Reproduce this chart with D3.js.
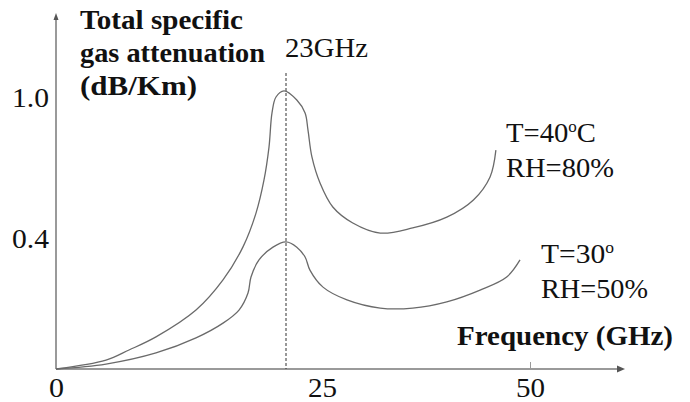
<!DOCTYPE html>
<html>
<head>
<meta charset="utf-8">
<script src="https://cdn.jsdelivr.net/npm/d3@7"></script>
<style>
  html, body { margin: 0; padding: 0; background: #fff; }
  svg { display: block; }
  text { font-family: "Liberation Serif", "DejaVu Serif", serif; fill: #111; }
</style>
</head>
<body>
<svg id="chart" width="690" height="402"></svg>
<script>
// ---- data ----
const freqTicks = [0, 25, 50];
const freqTickLabels = ["0", "25", "50"];
const attTicks = [0.4, 1.0];
const attTickLabels = ["0.4", "1.0"];
const peakFreq = 23;
const peakLabel = "23GHz";

// T = 40 °C, RH = 80 %
const freqT40 = [0, 5.0, 7.3, 10.0, 14.0, 16.7, 18.7, 20.0, 20.8, 21.3, 21.6, 22.0, 22.8, 23.6, 24.06, 24.22, 24.44, 24.89, 26.3, 28.7, 32.0, 35.9, 40.0, 43.2, 45.2, 45.9];
const attT40  = [0, 0.027, 0.058, 0.098, 0.180, 0.272, 0.373, 0.506, 0.647, 0.787, 0.932, 1.0, 1.026, 0.987, 0.932, 0.860, 0.745, 0.634, 0.532, 0.464, 0.421, 0.443, 0.489, 0.562, 0.660, 0.774];

// T = 30 °, RH = 50 %
const freqT30 = [0, 5.0, 10.0, 14.0, 16.7, 18.3, 19.2, 19.5, 20.3, 21.7, 23.0, 23.6, 24.06, 24.33, 25.12, 28.0, 32.0, 35.9, 40.0, 44.0, 47.2, 48.8];
const attT30  = [0, 0.015, 0.049, 0.095, 0.140, 0.180, 0.232, 0.281, 0.333, 0.372, 0.388, 0.372, 0.342, 0.302, 0.250, 0.211, 0.186, 0.186, 0.205, 0.241, 0.281, 0.333];

const seriesNames = [["T=40", "C", "RH=80%"], ["T=30", "", "RH=50%"]];
const xTitle = "Frequency (GHz)";
const yTitle = ["Total specific", "gas attenuation", "(dB/Km)"];

// ---- scales ----
const svg = d3.select("#chart");
const x = d3.scaleLinear().domain([0, 23, 25, 50]).range([56, 286, 322, 530]);
const y = d3.scaleLinear().domain([0, 0.4, 1.0]).range([369, 238, 97]);

const axisColor = "#9a9a9a";
const lineColor = "#6a6a6a";
const FS = "27px";

function fit(sel, w) { sel.attr("textLength", w).attr("lengthAdjust", "spacingAndGlyphs"); return sel; }

// x axis
const xAxis = svg.append("g").attr("transform", `translate(0,${y(0)})`)
  .call(d3.axisBottom(x).tickValues(freqTicks).tickSizeInner(-7).tickSizeOuter(0)
        .tickFormat((d, i) => freqTickLabels[i]));
xAxis.attr("font-family", null).attr("font-size", null);
xAxis.select(".domain").remove();
xAxis.selectAll(".tick line").attr("stroke", axisColor).attr("stroke-width", 1)
  .attr("opacity", d => d === 50 ? 1 : 0);
xAxis.selectAll(".tick text").attr("y", 28).attr("dy", 0).style("font-size", FS).attr("fill", "#111")
  .each(function(d) { fit(d3.select(this), d === 0 ? 15 : 29); });

// y axis
const yAxis = svg.append("g").attr("transform", `translate(${x(0)},0)`)
  .call(d3.axisLeft(y).tickValues(attTicks).tickSize(0).tickPadding(7)
        .tickFormat((d, i) => attTickLabels[i]));
yAxis.attr("font-family", null).attr("font-size", null);
yAxis.select(".domain").remove();
yAxis.selectAll(".tick text").attr("dy", "0.36em").style("font-size", FS).attr("fill", "#111")
  .each(function() { fit(d3.select(this), 37); });

// axis lines with arrows
svg.append("line").attr("x1", x(0)).attr("y1", y(0)).attr("x2", 620).attr("y2", y(0))
  .attr("stroke", axisColor).attr("stroke-width", 2);
svg.append("path").attr("d", `M625,${y(0)} L617,${y(0)-3.5} L617,${y(0)+3.5} Z`).attr("fill", "#555");
svg.append("line").attr("x1", x(0)).attr("y1", y(0)).attr("x2", x(0)).attr("y2", 18)
  .attr("stroke", axisColor).attr("stroke-width", 2);
svg.append("path").attr("d", `M${x(0)},13 L${x(0)-2.5},20 L${x(0)+2.5},20 Z`).attr("fill", "#555");

// dashed peak line
svg.append("line").attr("x1", x(peakFreq)).attr("x2", x(peakFreq))
  .attr("y1", 73).attr("y2", y(0))
  .attr("stroke", "#333").attr("stroke-width", 1).attr("stroke-dasharray", "3,2");

// curves
const line = d3.line().x(d => x(d[0])).y(d => y(d[1])).curve(d3.curveCatmullRom.alpha(0.5));
[[freqT40, attT40], [freqT30, attT30]].forEach(([f, a]) => {
  svg.append("path").datum(f.map((v, i) => [v, a[i]]))
    .attr("d", line).attr("fill", "none")
    .attr("stroke", lineColor).attr("stroke-width", 1.3);
});

// titles
const yWidths = [163, 185, 117];
yTitle.forEach((t, i) => {
  fit(svg.append("text").attr("x", 80).attr("y", 29 + i * 33)
    .attr("font-weight", "bold").style("font-size", FS).text(t), yWidths[i]);
});
fit(svg.append("text").attr("x", 457).attr("y", 345)
  .attr("font-weight", "bold").style("font-size", FS).text(xTitle), 216);

// peak label
fit(svg.append("text").attr("x", 285).attr("y", 57).style("font-size", FS).text(peakLabel), 83);

// series labels
const labelPos = [[506, 142, 177, 90, 108], [541, 263, 298, 73, 107]];
seriesNames.forEach((n, i) => {
  const [lx, y1, y2, w1, w2] = labelPos[i];
  const t = svg.append("text").attr("x", lx).attr("y", y1).style("font-size", FS);
  t.append("tspan").text(n[0]);
  t.append("tspan").attr("dy", -10).style("font-size", "16px").text("o");
  if (n[1]) t.append("tspan").attr("dy", 10).text(n[1]);
  fit(t, w1);
  fit(svg.append("text").attr("x", lx).attr("y", y2).style("font-size", FS).text(n[2]), w2);
});
</script>
</body>
</html>
